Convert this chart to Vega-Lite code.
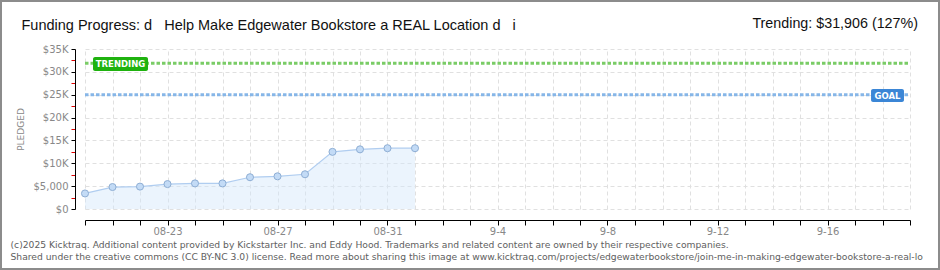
{
  "$schema": "https://vega.github.io/schema/vega-lite/v6.json",
  "width": 940,
  "height": 270,
  "autosize": {"type": "none"},
  "padding": 0,
  "background": "#ffffff",
  "config": {
    "view": {"stroke": "#8c8c8c", "strokeWidth": 4, "fill": "#ffffff"},
    "axis": {"labelFont": "DejaVu Sans", "titleFont": "DejaVu Sans"}
  },
  "data": {
    "values": [
      {"date": "2025-08-20", "pledged": 3400},
      {"date": "2025-08-21", "pledged": 4800},
      {"date": "2025-08-22", "pledged": 4900},
      {"date": "2025-08-23", "pledged": 5450},
      {"date": "2025-08-24", "pledged": 5600},
      {"date": "2025-08-25", "pledged": 5600},
      {"date": "2025-08-26", "pledged": 6950},
      {"date": "2025-08-27", "pledged": 7150},
      {"date": "2025-08-28", "pledged": 7600},
      {"date": "2025-08-29", "pledged": 12500},
      {"date": "2025-08-30", "pledged": 13050},
      {"date": "2025-08-31", "pledged": 13300},
      {"date": "2025-09-01", "pledged": 13300}
    ]
  },
  "resolve": {"axis": {"x": "independent", "y": "independent"}},
  "layer": [
    {
      "mark": {"type": "area", "color": "#d3e6fa", "opacity": 0.45},
      "encoding": {
        "x": {
          "field": "date",
          "type": "temporal",
          "scale": {
            "type": "utc",
            "domain": [
              {"year": 2025, "month": 8, "date": 20, "utc": true},
              {"year": 2025, "month": 9, "date": 19, "utc": true}
            ],
            "range": [85, 910],
            "nice": false
          },
          "axis": {
            "orient": "bottom",
            "offset": -50,
            "grid": false,
            "tickCount": {"interval": "day", "step": 1},
            "domainColor": "#000000",
            "domainWidth": 1,
            "tickColor": "#000000",
            "tickSize": 5,
            "labelExpr": "(round((datum.value - utc(2025,7,23))/86400000) % 4 == 0) ? (utcmonth(datum.value) == 7 ? utcFormat(datum.value, '%m-%d') : utcFormat(datum.value, '%-m-%-d')) : ''",
            "labelFontSize": 10,
            "labelColor": "#888888",
            "labelPadding": 1,
            "labelFlush": false,
            "labelOverlap": false,
            "title": [
              "(c)2025 Kicktraq. Additional content provided by Kickstarter Inc. and Eddy Hood. Trademarks and related content are owned by their respective companies.",
              "Shared under the creative commons (CC BY-NC 3.0) license. Read more about sharing this image at www.kicktraq.com/projects/edgewaterbookstore/join-me-in-making-edgewater-bookstore-a-real-lo"
            ],
            "titleX": 10,
            "titleY": 27,
            "titleAlign": "left",
            "titleBaseline": "alphabetic",
            "titleAngle": 0,
            "titleFontSize": 9.2,
            "titleFontWeight": "normal",
            "titleColor": "#606060",
            "titleLineHeight": 12
          }
        },
        "y": {
          "field": "pledged",
          "type": "quantitative",
          "scale": {"domain": [0, 35000], "range": [209, 49], "nice": false},
          "axis": {
            "orient": "left",
            "offset": -75,
            "values": [0, 2500, 5000, 7500, 10000, 12500, 15000, 17500, 20000, 22500, 25000, 27500, 30000, 32500, 35000],
            "domainColor": "#000000",
            "tickSize": 4,
            "tickColor": {"condition": {"test": "datum.value % 5000 != 0", "value": "#e00000"}, "value": "#000000"},
            "grid": true,
            "gridColor": "#e0e0e0",
            "gridDash": [4, 3],
            "gridOpacity": {"condition": {"test": "datum.value % 5000 != 0", "value": 0}, "value": 1},
            "labelExpr": "datum.value % 5000 != 0 ? '' : (datum.value >= 10000 ? '$' + (datum.value / 1000) + 'K' : '$' + format(datum.value, ','))",
            "labelFontSize": 10,
            "labelColor": "#888888",
            "labelPadding": 3,
            "labelOverlap": false,
            "title": "PLEDGED",
            "titleX": -55,
            "titleY": 129,
            "titleAngle": 270,
            "titleAlign": "center",
            "titleBaseline": "middle",
            "titleFontSize": 9,
            "titleFontWeight": "normal",
            "titleColor": "#888888"
          }
        }
      }
    },
    {
      "mark": {"type": "line", "color": "#b0cdf0", "strokeWidth": 1.2},
      "encoding": {
        "x": {
          "field": "date",
          "type": "temporal",
          "axis": {
            "orient": "top",
            "offset": 0,
            "labels": false,
            "ticks": false,
            "domain": false,
            "grid": true,
            "gridColor": "#e0e0e0",
            "gridDash": [4, 3],
            "tickCount": {"interval": "day", "step": 1},
            "title": "Funding Progress: d\u00a0\u00a0 Help Make Edgewater Bookstore a REAL Location d\u00a0\u00a0 i",
            "titleX": 21,
            "titleY": 29,
            "titleAlign": "left",
            "titleBaseline": "alphabetic",
            "titleAngle": 0,
            "titleFont": "Liberation Sans",
            "titleFontSize": 14.5,
            "titleFontWeight": "normal",
            "titleColor": "#111111"
          }
        },
        "y": {"field": "pledged", "type": "quantitative", "axis": null}
      }
    },
    {
      "data": {"values": [{}]},
      "mark": {"type": "rule", "color": "#7acc66", "strokeWidth": 3, "strokeDash": [3.5, 2]},
      "encoding": {
        "x": {"datum": {"year": 2025, "month": 8, "date": 20, "utc": true}, "type": "temporal", "axis": null},
        "x2": {"datum": {"year": 2025, "month": 9, "date": 19, "utc": true}},
        "y": {"datum": 31906, "type": "quantitative", "axis": null}
      }
    },
    {
      "data": {"values": [{}]},
      "mark": {"type": "rule", "color": "#86b6e8", "strokeWidth": 3, "strokeDash": [3.5, 2]},
      "encoding": {
        "x": {"datum": {"year": 2025, "month": 8, "date": 20, "utc": true}, "type": "temporal", "axis": null},
        "x2": {"datum": {"year": 2025, "month": 9, "date": 19, "utc": true}},
        "y": {"datum": 25000, "type": "quantitative", "axis": null}
      }
    },
    {
      "mark": {"type": "point", "filled": true, "fill": "#c3dbf6", "stroke": "#8eaed4", "strokeWidth": 1, "size": 50, "opacity": 1},
      "encoding": {
        "x": {"field": "date", "type": "temporal", "axis": null},
        "y": {"field": "pledged", "type": "quantitative", "axis": null}
      }
    },
    {
      "data": {"values": [{}]},
      "mark": {"type": "rect", "color": "#1fb20f", "cornerRadius": 2},
      "encoding": {
        "x": {"datum": {"year": 2025, "month": 8, "date": 20, "hours": 7, "utc": true}, "type": "temporal", "axis": null},
        "x2": {"datum": {"year": 2025, "month": 8, "date": 22, "hours": 7, "utc": true}},
        "y": {"datum": 33250, "type": "quantitative", "axis": null},
        "y2": {"datum": 30190}
      }
    },
    {
      "data": {"values": [{}]},
      "mark": {"type": "text", "color": "#ffffff", "font": "DejaVu Sans", "fontSize": 8.5, "fontWeight": "bold", "baseline": "middle", "align": "center"},
      "encoding": {
        "x": {"datum": {"year": 2025, "month": 8, "date": 21, "hours": 7, "utc": true}, "type": "temporal", "axis": null},
        "y": {"datum": 31720, "type": "quantitative", "axis": null},
        "text": {"value": "TRENDING"}
      }
    },
    {
      "data": {"values": [{}]},
      "mark": {"type": "rect", "color": "#3b86d6", "cornerRadius": 2},
      "encoding": {
        "x": {"datum": {"year": 2025, "month": 9, "date": 17, "hours": 14, "utc": true}, "type": "temporal", "axis": null},
        "x2": {"datum": {"year": 2025, "month": 9, "date": 18, "hours": 18, "minutes": 45, "utc": true}},
        "y": {"datum": 26250, "type": "quantitative", "axis": null},
        "y2": {"datum": 23400}
      }
    },
    {
      "data": {"values": [{}]},
      "mark": {"type": "text", "color": "#ffffff", "font": "DejaVu Sans", "fontSize": 8.5, "fontWeight": "bold", "baseline": "middle", "align": "center"},
      "encoding": {
        "x": {"datum": {"year": 2025, "month": 9, "date": 18, "hours": 4, "minutes": 20, "utc": true}, "type": "temporal", "axis": null},
        "y": {"datum": 24800, "type": "quantitative", "axis": null},
        "text": {"value": "GOAL"}
      }
    },
    {
      "data": {"values": [{}]},
      "mark": {"type": "text", "align": "right", "baseline": "alphabetic", "font": "Liberation Sans", "fontSize": 14.3, "color": "#111111", "dx": 8, "dy": -21.5},
      "encoding": {
        "x": {"datum": {"year": 2025, "month": 9, "date": 19, "utc": true}, "type": "temporal", "axis": null},
        "y": {"datum": 35000, "type": "quantitative", "axis": null},
        "text": {"value": "Trending:  $31,906 (127%)"}
      }
    }
  ]
}
